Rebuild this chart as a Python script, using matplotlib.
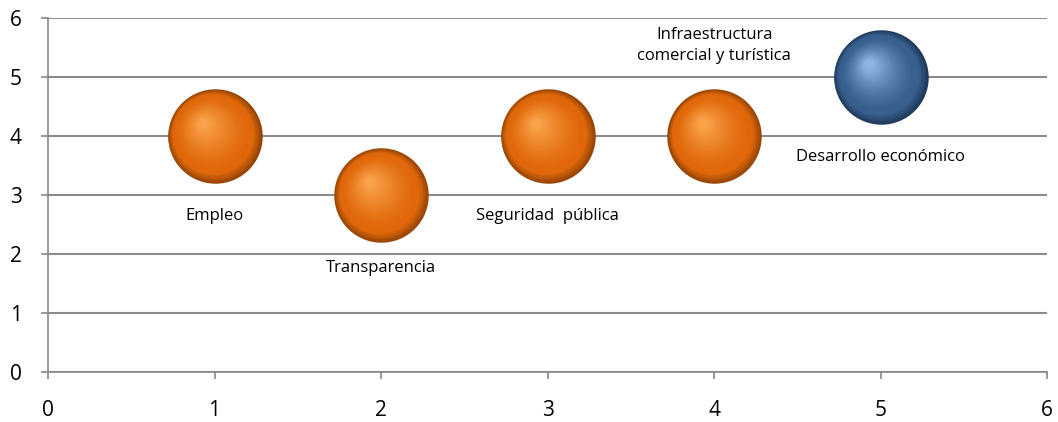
import numpy as np
import matplotlib
matplotlib.use('Agg')
import matplotlib.pyplot as plt
from matplotlib.colors import to_rgb
from matplotlib.transforms import ScaledTranslation

# datos
temas = ['Empleo', 'Transparencia', 'Seguridad  pública',
         'Infraestructura\ncomercial y turística', 'Desarrollo económico']
x_vals = [1, 2, 3, 4, 5]
y_vals = [4, 3, 4, 4, 5]
grupo = ['o', 'o', 'o', 'o', 'b']   # o = naranja, b = azul
label_pos = [(1, 2.64), (2, 1.76), (3, 2.64), (4, 5.54), (5, 3.64)]

plt.rcParams['font.family'] = ['Open Sans', 'DejaVu Sans']

fig = plt.figure(figsize=(10.58, 4.22), dpi=100)
ax = fig.add_axes([0.0454, 0.1185, 0.9444, 0.8385])

ax.set_xlim(0, 6)
ax.set_ylim(0, 6)
ax.set_xticks(range(7))
ax.set_yticks(range(7))
ax.tick_params(axis='both', labelsize=15, colors='#888888', labelcolor='black',
               length=5, width=1.2)
ax.tick_params(axis='x', pad=15)
ax.tick_params(axis='y', pad=14)
for s in ['top', 'right']:
    ax.spines[s].set_visible(False)
for s in ['left', 'bottom']:
    ax.spines[s].set_color('#888888')
    ax.spines[s].set_linewidth(1.2)
ax.yaxis.grid(True, color='#8c8c8c', linewidth=1.5)
ax.set_axisbelow(True)

paletas = {
    'o': ('#6e3204', '#E0680A', '#F9A24A'),
    'b': ('#13263f', '#37608F', '#8DB5E4'),
}

def mezcla(c1, c2, t):
    a, b = np.array(to_rgb(c1)), np.array(to_rgb(c2))
    return tuple(a + (b - a) * t)

radio_pt = 34   # radio de la esfera en puntos
n = 40
for xi, yi, g in zip(x_vals, y_vals, grupo):
    oscuro, medio, claro = paletas[g]
    for i in range(n):
        t = i / (n - 1)
        r = radio_pt * (1 - 0.9 * t)
        if t < 0.25:
            col = mezcla(oscuro, medio, min(1, t / 0.25 + 0.35))
        else:
            col = mezcla(medio, claro, ((t - 0.25) / 0.75) ** 1.3)
        dx = -0.25 * radio_pt * t / 72
        dy = 0.28 * radio_pt * t / 72
        tr = ax.transData + ScaledTranslation(dx, dy, fig.dpi_scale_trans)
        ax.scatter([xi], [yi], s=(2 * r) ** 2, color=col, transform=tr,
                   linewidths=0, zorder=3 + i * 0.01, clip_on=False)

for (lx, ly), txt in zip(label_pos, temas):
    ax.text(lx, ly, txt, ha='center', va='center', fontsize=12,
            color='black', linespacing=1.45, zorder=5)

fig.savefig('out.png', dpi=100)
